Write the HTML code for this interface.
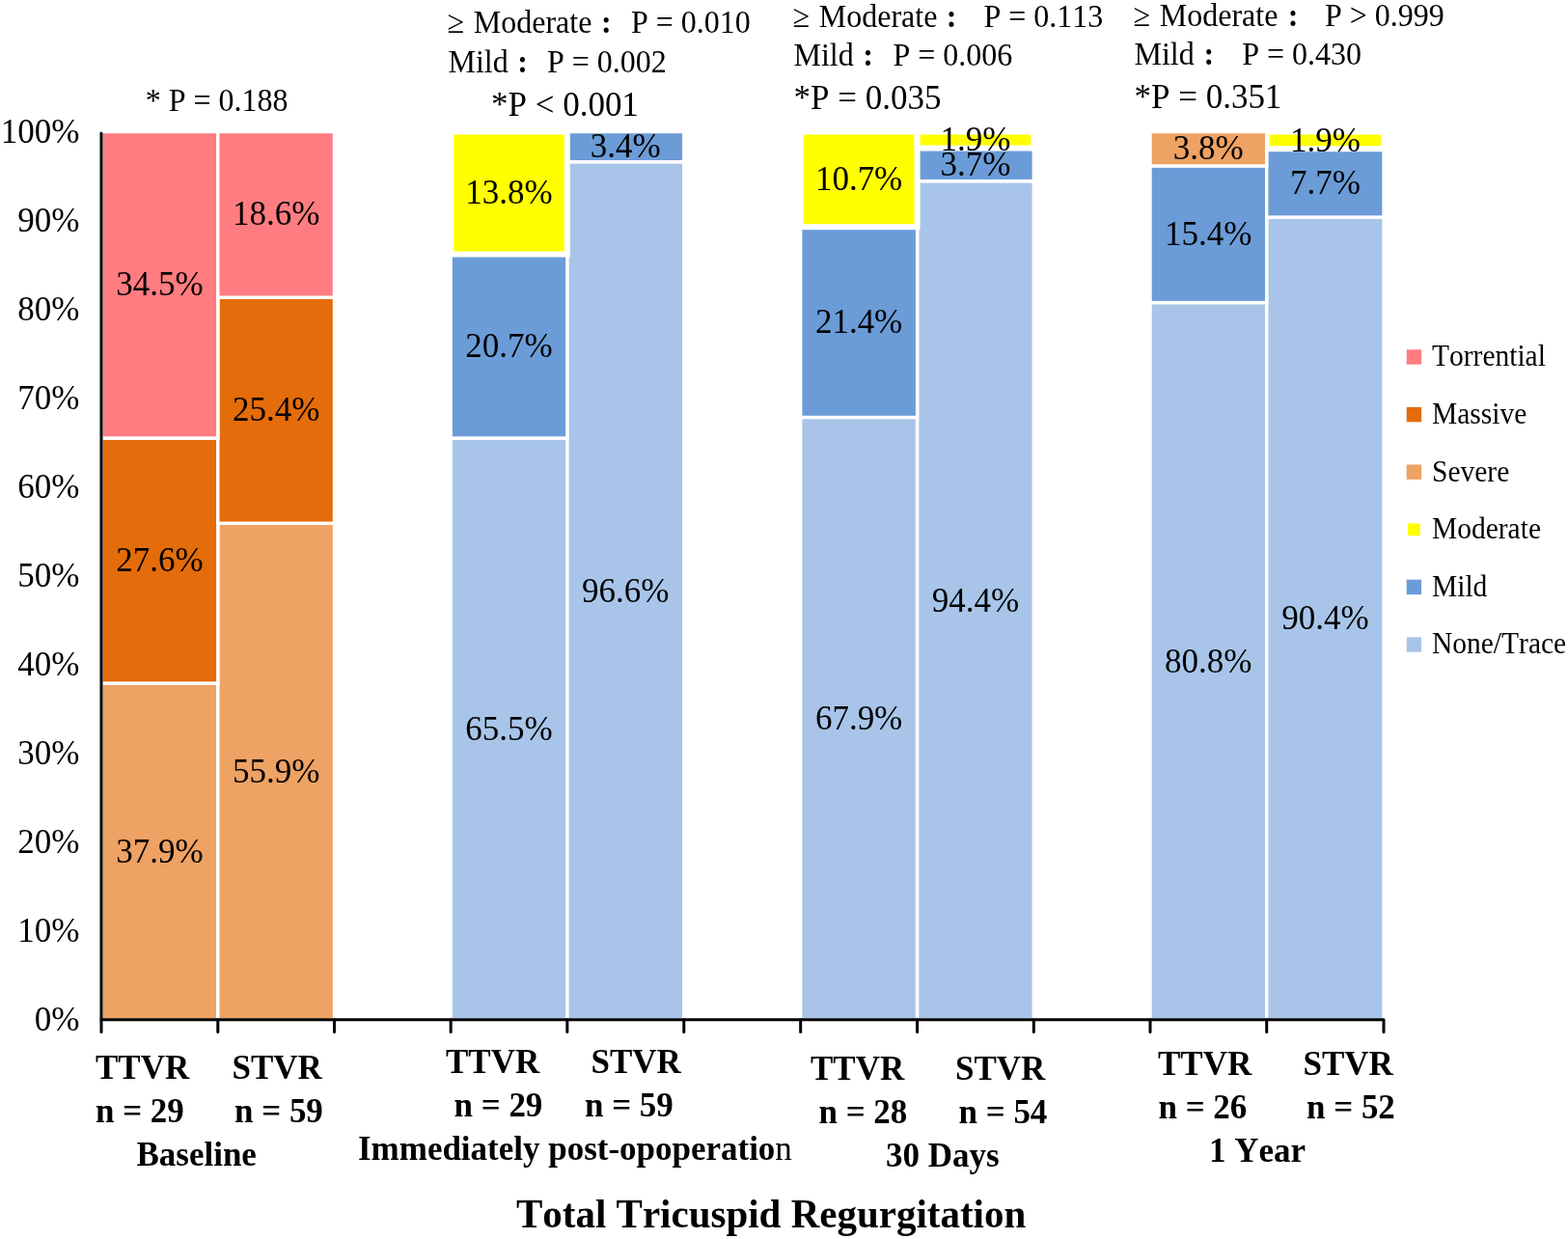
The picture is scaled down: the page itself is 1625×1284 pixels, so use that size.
<!DOCTYPE html>
<html><head><meta charset="utf-8"><title>Total Tricuspid Regurgitation</title>
<style>html,body{margin:0;padding:0;background:#fff;} svg{display:block;} text{font-kerning:none;}</style>
</head><body>
<svg width="1625" height="1284" viewBox="0 0 1625 1284">
<g fill="#A8C5E9" stroke="#fff" stroke-width="3.4"><rect x="467.17" y="454.02" width="120.68" height="603.28"/><rect x="587.85" y="167.71" width="120.92" height="889.59"/><rect x="829.68" y="432.47" width="120.92" height="624.83"/><rect x="950.60" y="187.66" width="120.70" height="869.64"/><rect x="1192.00" y="313.58" width="120.70" height="743.72"/><rect x="1312.70" y="225.04" width="121.35" height="832.26"/></g>
<g fill="#6B9CD8" stroke="#fff" stroke-width="3.4"><rect x="467.17" y="263.51" width="120.68" height="190.51"/><rect x="587.85" y="136.50" width="120.92" height="31.21"/><rect x="829.68" y="235.16" width="120.92" height="197.31"/><rect x="950.60" y="153.55" width="120.70" height="34.10"/><rect x="1192.00" y="171.92" width="120.70" height="141.66"/><rect x="1312.70" y="154.21" width="121.35" height="70.83"/></g>
<g fill="#FFFF00" stroke="#fff" stroke-width="6"><rect x="467.17" y="136.50" width="120.68" height="127.01"/><rect x="829.68" y="136.50" width="120.92" height="98.66"/><rect x="950.60" y="136.50" width="120.70" height="17.05"/><rect x="1312.70" y="136.50" width="121.35" height="17.71"/></g>
<g fill="#EEA264" stroke="#fff" stroke-width="3.4"><rect x="105.00" y="708.03" width="120.80" height="349.27"/><rect x="225.80" y="542.28" width="120.68" height="515.02"/><rect x="1192.00" y="136.50" width="120.70" height="35.42"/></g>
<g fill="#E46C0A" stroke="#fff" stroke-width="3.4"><rect x="105.00" y="454.02" width="120.80" height="254.01"/><rect x="225.80" y="308.17" width="120.68" height="234.10"/></g>
<g fill="#FF7C80" stroke="#fff" stroke-width="3.4"><rect x="105.00" y="136.50" width="120.80" height="317.52"/><rect x="225.80" y="136.50" width="120.68" height="171.67"/></g>
<g stroke="#000" stroke-width="3" stroke-linecap="round" stroke-linejoin="round" fill="none">
<path d="M105.0 138.1V1056.7H1434.0V1069.4"/>
<line x1="105.00" y1="1056.7" x2="105.00" y2="1069.4"/>
<line x1="225.80" y1="1056.7" x2="225.80" y2="1069.4"/>
<line x1="346.48" y1="1056.7" x2="346.48" y2="1069.4"/>
<line x1="467.17" y1="1056.7" x2="467.17" y2="1069.4"/>
<line x1="587.85" y1="1056.7" x2="587.85" y2="1069.4"/>
<line x1="708.77" y1="1056.7" x2="708.77" y2="1069.4"/>
<line x1="829.68" y1="1056.7" x2="829.68" y2="1069.4"/>
<line x1="950.60" y1="1056.7" x2="950.60" y2="1069.4"/>
<line x1="1071.30" y1="1056.7" x2="1071.30" y2="1069.4"/>
<line x1="1192.00" y1="1056.7" x2="1192.00" y2="1069.4"/>
<line x1="1312.70" y1="1056.7" x2="1312.70" y2="1069.4"/>
</g>
<g font-family="'Liberation Serif','Times New Roman',serif" fill="#000">
<text x="82.3" y="1067.7" transform="matrix(1 0 0 1.04 0 -42.71)" font-size="35" text-anchor="end">0%</text>
<text x="82.3" y="975.7" transform="matrix(1 0 0 1.04 0 -39.03)" font-size="35" text-anchor="end">10%</text>
<text x="82.3" y="883.8" transform="matrix(1 0 0 1.04 0 -35.35)" font-size="35" text-anchor="end">20%</text>
<text x="82.3" y="791.8" transform="matrix(1 0 0 1.04 0 -31.67)" font-size="35" text-anchor="end">30%</text>
<text x="82.3" y="699.9" transform="matrix(1 0 0 1.04 0 -28.00)" font-size="35" text-anchor="end">40%</text>
<text x="82.3" y="607.9" transform="matrix(1 0 0 1.04 0 -24.32)" font-size="35" text-anchor="end">50%</text>
<text x="82.3" y="516.0" transform="matrix(1 0 0 1.04 0 -20.64)" font-size="35" text-anchor="end">60%</text>
<text x="82.3" y="424.0" transform="matrix(1 0 0 1.04 0 -16.96)" font-size="35" text-anchor="end">70%</text>
<text x="82.3" y="332.1" transform="matrix(1 0 0 1.04 0 -13.28)" font-size="35" text-anchor="end">80%</text>
<text x="82.3" y="240.1" transform="matrix(1 0 0 1.04 0 -9.60)" font-size="35" text-anchor="end">90%</text>
<text x="82.3" y="148.2" transform="matrix(1 0 0 1.04 0 -5.93)" font-size="35" text-anchor="end">100%</text>
<text x="165.4" y="893.9" transform="matrix(1 0 0 1.04 0 -35.76)" font-size="35" text-anchor="middle">37.9%</text>
<text x="165.4" y="592.2" transform="matrix(1 0 0 1.04 0 -23.69)" font-size="35" text-anchor="middle">27.6%</text>
<text x="165.4" y="306.5" transform="matrix(1 0 0 1.04 0 -12.26)" font-size="35" text-anchor="middle">34.5%</text>
<text x="286.1" y="811.0" transform="matrix(1 0 0 1.04 0 -32.44)" font-size="35" text-anchor="middle">55.9%</text>
<text x="286.1" y="436.4" transform="matrix(1 0 0 1.04 0 -17.46)" font-size="35" text-anchor="middle">25.4%</text>
<text x="286.1" y="233.5" transform="matrix(1 0 0 1.04 0 -9.34)" font-size="35" text-anchor="middle">18.6%</text>
<text x="527.5" y="766.9" transform="matrix(1 0 0 1.04 0 -30.68)" font-size="35" text-anchor="middle">65.5%</text>
<text x="527.5" y="370.0" transform="matrix(1 0 0 1.04 0 -14.80)" font-size="35" text-anchor="middle">20.7%</text>
<text x="527.5" y="211.2" transform="matrix(1 0 0 1.04 0 -8.45)" font-size="35" text-anchor="middle">13.8%</text>
<text x="648.3" y="623.7" transform="matrix(1 0 0 1.04 0 -24.95)" font-size="35" text-anchor="middle">96.6%</text>
<text x="648.3" y="163.3" transform="matrix(1 0 0 1.04 0 -6.53)" font-size="35" text-anchor="middle">3.4%</text>
<text x="890.1" y="756.1" transform="matrix(1 0 0 1.04 0 -30.24)" font-size="35" text-anchor="middle">67.9%</text>
<text x="890.1" y="345.0" transform="matrix(1 0 0 1.04 0 -13.80)" font-size="35" text-anchor="middle">21.4%</text>
<text x="890.1" y="197.0" transform="matrix(1 0 0 1.04 0 -7.88)" font-size="35" text-anchor="middle">10.7%</text>
<text x="1011.0" y="633.7" transform="matrix(1 0 0 1.04 0 -25.35)" font-size="35" text-anchor="middle">94.4%</text>
<text x="1011.0" y="181.8" transform="matrix(1 0 0 1.04 0 -7.27)" font-size="35" text-anchor="middle">3.7%</text>
<text x="1011.0" y="156.2" transform="matrix(1 0 0 1.04 0 -6.25)" font-size="35" text-anchor="middle">1.9%</text>
<text x="1252.3" y="696.6" transform="matrix(1 0 0 1.04 0 -27.86)" font-size="35" text-anchor="middle">80.8%</text>
<text x="1252.3" y="253.9" transform="matrix(1 0 0 1.04 0 -10.16)" font-size="35" text-anchor="middle">15.4%</text>
<text x="1252.3" y="165.4" transform="matrix(1 0 0 1.04 0 -6.62)" font-size="35" text-anchor="middle">3.8%</text>
<text x="1373.4" y="652.4" transform="matrix(1 0 0 1.04 0 -26.10)" font-size="35" text-anchor="middle">90.4%</text>
<text x="1373.4" y="200.8" transform="matrix(1 0 0 1.04 0 -8.03)" font-size="35" text-anchor="middle">7.7%</text>
<text x="1373.4" y="156.6" transform="matrix(1 0 0 1.04 0 -6.26)" font-size="35" text-anchor="middle">1.9%</text>
<rect x="1457.70" y="362.30" width="15.4" height="15.4" fill="#FF7C80"/>
<text x="1484" y="379.5" transform="matrix(1 0 0 1.04 0 -15.18)" font-size="29.5">Torrential</text>
<rect x="1457.70" y="421.90" width="15.4" height="15.4" fill="#E46C0A"/>
<text x="1484" y="439.1" transform="matrix(1 0 0 1.04 0 -17.56)" font-size="29.5">Massive</text>
<rect x="1457.70" y="481.50" width="15.4" height="15.4" fill="#EEA264"/>
<text x="1484" y="498.7" transform="matrix(1 0 0 1.04 0 -19.95)" font-size="29.5">Severe</text>
<rect x="1459.05" y="542.45" width="12.7" height="12.7" fill="#FFFF00"/>
<text x="1484" y="558.3" transform="matrix(1 0 0 1.04 0 -22.33)" font-size="29.5">Moderate</text>
<rect x="1457.70" y="600.70" width="15.4" height="15.4" fill="#6B9CD8"/>
<text x="1484" y="617.9" transform="matrix(1 0 0 1.04 0 -24.72)" font-size="29.5">Mild</text>
<rect x="1457.70" y="660.30" width="15.4" height="15.4" fill="#A8C5E9"/>
<text x="1484" y="677.5" transform="matrix(1 0 0 1.04 0 -27.10)" font-size="29.5">None/Trace</text>
<text x="99" y="1118.5" transform="matrix(1 0 0 1.04 0 -44.74)" font-size="35" font-weight="bold" text-anchor="start">TTVR</text>
<text x="240.5" y="1118.5" transform="matrix(1 0 0 1.04 0 -44.74)" font-size="35" font-weight="bold" text-anchor="start">STVR</text>
<text x="99" y="1162.8" transform="matrix(1 0 0 1.04 0 -46.51)" font-size="35" font-weight="bold" text-anchor="start">n = 29</text>
<text x="243" y="1162.8" transform="matrix(1 0 0 1.04 0 -46.51)" font-size="35" font-weight="bold" text-anchor="start">n = 59</text>
<text x="141.5" y="1208.3" transform="matrix(1 0 0 1.04 0 -48.33)" font-size="35" font-weight="bold" text-anchor="start">Baseline</text>
<text x="462" y="1112" transform="matrix(1 0 0 1.04 0 -44.48)" font-size="35" font-weight="bold" text-anchor="start">TTVR</text>
<text x="612.5" y="1112" transform="matrix(1 0 0 1.04 0 -44.48)" font-size="35" font-weight="bold" text-anchor="start">STVR</text>
<text x="470.5" y="1156.9" transform="matrix(1 0 0 1.04 0 -46.28)" font-size="35" font-weight="bold" text-anchor="start">n = 29</text>
<text x="606" y="1156.9" transform="matrix(1 0 0 1.04 0 -46.28)" font-size="35" font-weight="bold" text-anchor="start">n = 59</text>
<text x="371" y="1202.3" transform="matrix(1 0 0 1.04 0 -48.09)" font-size="35"><tspan font-weight="bold">Immediately post-opoperatio</tspan>n</text>
<text x="840" y="1119" transform="matrix(1 0 0 1.04 0 -44.76)" font-size="35" font-weight="bold" text-anchor="start">TTVR</text>
<text x="990" y="1119" transform="matrix(1 0 0 1.04 0 -44.76)" font-size="35" font-weight="bold" text-anchor="start">STVR</text>
<text x="848.5" y="1164.4" transform="matrix(1 0 0 1.04 0 -46.58)" font-size="35" font-weight="bold" text-anchor="start">n = 28</text>
<text x="993.5" y="1164.4" transform="matrix(1 0 0 1.04 0 -46.58)" font-size="35" font-weight="bold" text-anchor="start">n = 54</text>
<text x="918" y="1208.8" transform="matrix(1 0 0 1.04 0 -48.35)" font-size="35" font-weight="bold" text-anchor="start">30 Days</text>
<text x="1200" y="1114.3" transform="matrix(1 0 0 1.04 0 -44.57)" font-size="35" font-weight="bold" text-anchor="start">TTVR</text>
<text x="1350.5" y="1114.3" transform="matrix(1 0 0 1.04 0 -44.57)" font-size="35" font-weight="bold" text-anchor="start">STVR</text>
<text x="1200.5" y="1159.4" transform="matrix(1 0 0 1.04 0 -46.38)" font-size="35" font-weight="bold" text-anchor="start">n = 26</text>
<text x="1354" y="1159.4" transform="matrix(1 0 0 1.04 0 -46.38)" font-size="35" font-weight="bold" text-anchor="start">n = 52</text>
<text x="1253" y="1204.2" transform="matrix(1 0 0 1.04 0 -48.17)" font-size="35" font-weight="bold" text-anchor="start">1 Year</text>
<text x="535" y="1271.6" transform="matrix(1 0 0 1.04 0 -50.86)" font-size="41" font-weight="bold" text-anchor="start">Total Tricuspid Regurgitation</text>
<text x="150.8" y="114.8" transform="matrix(1 0 0 1.04 0 -4.59)" font-size="32">* P = 0.188</text>
<text x="463.5" y="34.3" transform="matrix(1 0 0 1.04 0 -1.37)" font-size="32">≥<tspan dx="1.8"> </tspan>Moderate<tspan x="628.4" font-weight="bold" text-anchor="middle">:</tspan><tspan x="654">P = 0.010</tspan></text>
<text x="464.5" y="75.3" transform="matrix(1 0 0 1.04 0 -3.01)" font-size="32">Mild<tspan x="541.5" font-weight="bold" text-anchor="middle">:</tspan><tspan x="567">P = 0.002</tspan></text>
<text x="509" y="119.6" transform="matrix(1 0 0 1.04 0 -4.78)" font-size="35">*P &lt; 0.001</text>
<text x="821.5" y="27.5" transform="matrix(1 0 0 1.04 0 -1.10)" font-size="32">≥<tspan dx="1.8"> </tspan>Moderate<tspan x="986" font-weight="bold" text-anchor="middle">:</tspan><tspan x="1019.5">P = 0.113</tspan></text>
<text x="822.5" y="68" transform="matrix(1 0 0 1.04 0 -2.72)" font-size="32">Mild<tspan x="899.6" font-weight="bold" text-anchor="middle">:</tspan><tspan x="925.5">P = 0.006</tspan></text>
<text x="822.5" y="113" transform="matrix(1 0 0 1.04 0 -4.52)" font-size="35">*P = 0.035</text>
<text x="1174.5" y="27" transform="matrix(1 0 0 1.04 0 -1.08)" font-size="32">≥<tspan dx="1.8"> </tspan>Moderate<tspan x="1340.1" font-weight="bold" text-anchor="middle">:</tspan><tspan x="1373">P &gt; 0.999</tspan></text>
<text x="1175.5" y="67.5" transform="matrix(1 0 0 1.04 0 -2.70)" font-size="32">Mild<tspan x="1252.9" font-weight="bold" text-anchor="middle">:</tspan><tspan x="1287.3">P = 0.430</tspan></text>
<text x="1175.5" y="111.9" transform="matrix(1 0 0 1.04 0 -4.48)" font-size="35">*P = 0.351</text>
</g>
</svg>
</body></html>
